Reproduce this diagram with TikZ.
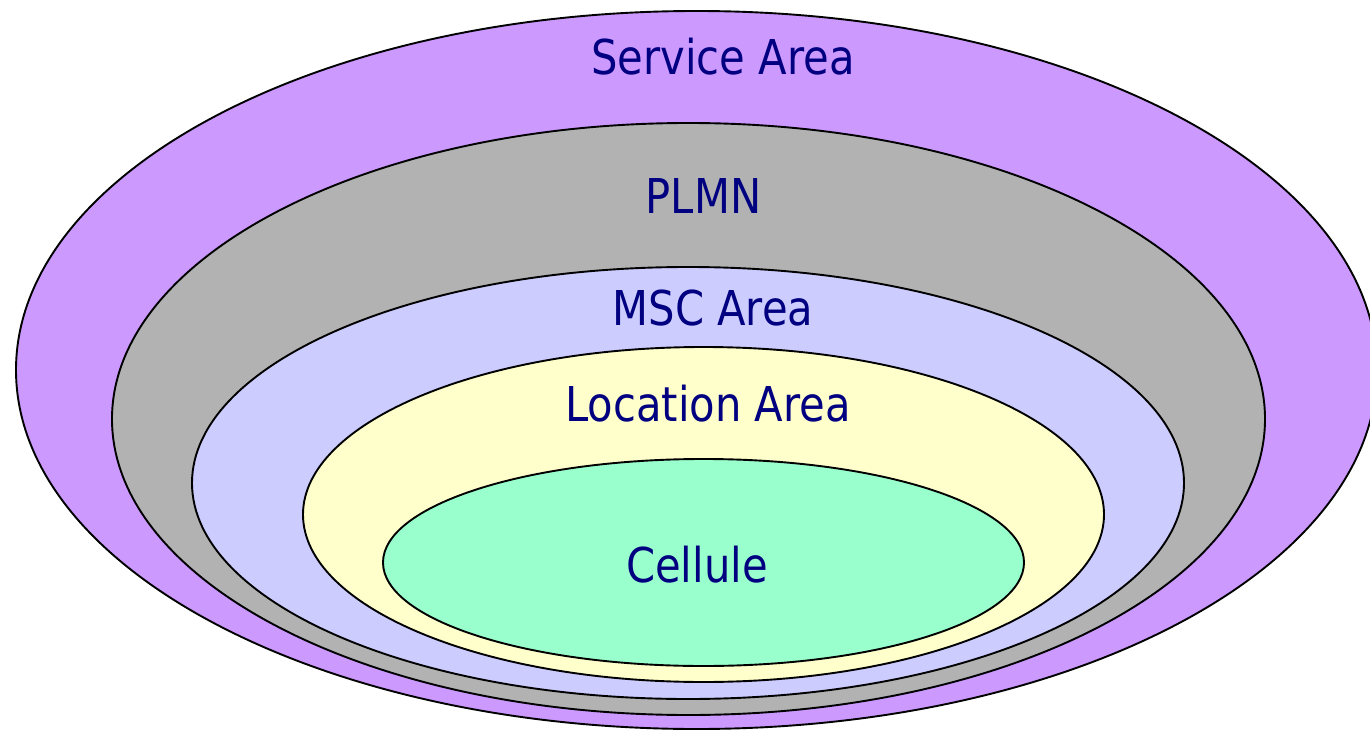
\documentclass[tikz,border=0pt]{standalone}
\usepackage{fontspec}
\setmainfont[FakeStretch=0.965]{DejaVu Sans Condensed}
\definecolor{svc}{HTML}{CC99FF}
\definecolor{plmn}{HTML}{B2B2B2}
\definecolor{msc}{HTML}{CCCCFF}
\definecolor{loc}{HTML}{FFFFCC}
\definecolor{cel}{HTML}{99FFCC}
\definecolor{navy}{HTML}{000080}
\tikzset{
  zone/.style={draw=black, line width=1.9pt},
  lbl/.style={anchor=base, text=navy, font=\fontsize{48}{50}\selectfont, inner sep=0pt}
}
\begin{document}
\begin{tikzpicture}[x=1pt,y=-1pt]
\useasboundingbox (0,0) rectangle (1370,730);
\clip (0,0) rectangle (1370,730);
\fill[white] (0,0) rectangle (1370,730);
\draw[zone, fill=svc] (696.5,370) ellipse [x radius=680.5, y radius=359];
\draw[zone, fill=plmn] (688.5,419) ellipse [x radius=576.5, y radius=296];
\draw[zone, fill=msc] (688,483) ellipse [x radius=496, y radius=216];
\draw[zone, fill=loc] (703.5,514.5) ellipse [x radius=400.5, y radius=167.5];
\draw[zone, fill=cel] (703.5,562.5) ellipse [x radius=320.5, y radius=103.5];
\node[lbl] (service) at (723,75) {Service Area};
\node[lbl] (plmnlbl) at (703.5,213) {PLMN};
\node[lbl] (msclbl) at (713,325) {MSC Area};
\node[lbl] (loclbl) at (708,421) {Location Area};
\node[lbl] (cellbl) at (697,582) {Cellule};
\end{tikzpicture}
\end{document}
